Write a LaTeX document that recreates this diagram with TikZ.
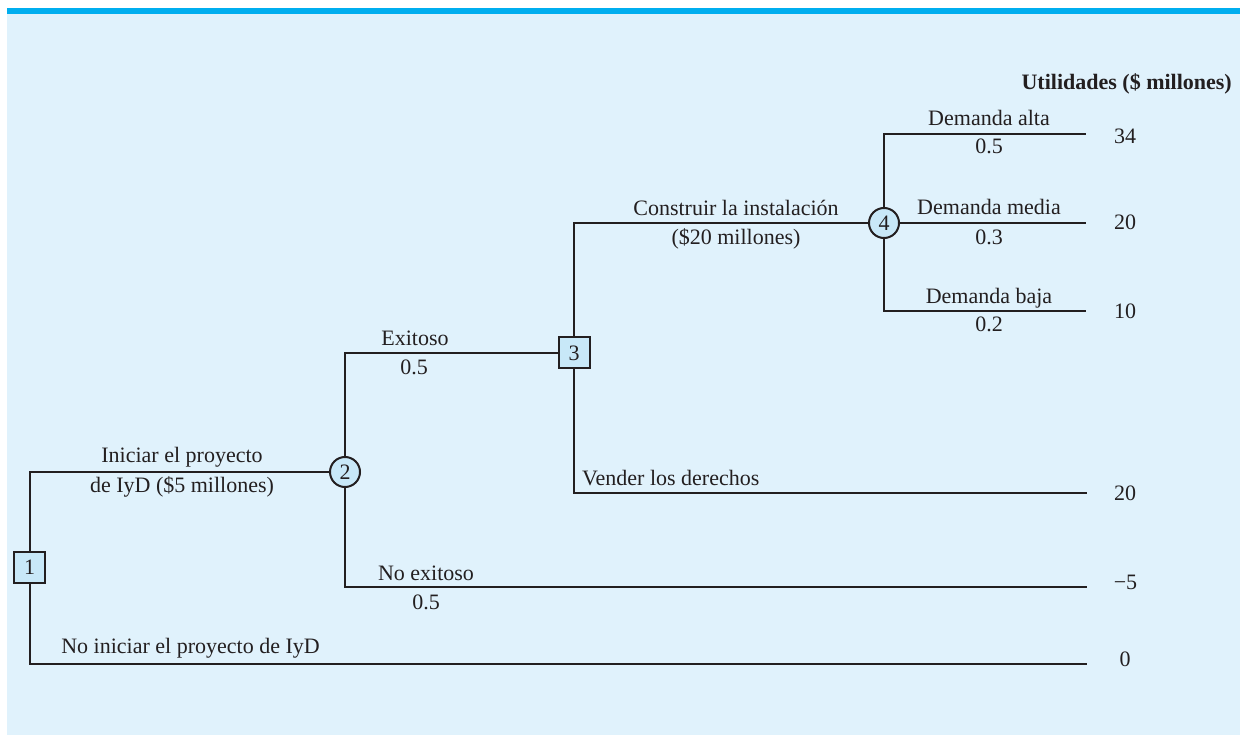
\documentclass[tikz,border=0pt]{standalone}
\usepackage{fontspec}
\setmainfont{Liberation Serif}
\definecolor{bgblue}{RGB}{224,242,252}
\definecolor{barblue}{RGB}{0,174,239}
\definecolor{nodefill}{RGB}{200,232,248}
\definecolor{ink}{RGB}{35,31,32}
\begin{document}
\begin{tikzpicture}[x=1pt,y=-1pt,
  every node/.style={font=\fontsize{22}{26}\selectfont, text=ink},
  decision/.style={draw=ink, fill=nodefill, line width=2pt, minimum width=31, minimum height=31, inner sep=0pt},
  chance/.style={circle, draw=ink, fill=nodefill, line width=2pt, minimum size=30, inner sep=0pt},
  branch/.style={draw=ink, line width=2pt},
  lbl/.style={inner sep=0pt, anchor=base},
  lblw/.style={inner sep=0pt, anchor=base west},
  lble/.style={inner sep=0pt, anchor=base east}]
\useasboundingbox (0,0) rectangle (1240,735);
\fill[bgblue] (7,14) rectangle (1240,735);
\fill[barblue] (7,8) rectangle (1240,14);

% nodes
\node[decision] (n1) at (29.5,567.5) {1};
\node[chance] (n2) at (345,472) {2};
\node[decision] (n3) at (574,353) {3};
\node[chance] (n4) at (884,223) {4};

% terminal points
\coordinate (e0) at (1087,664);
\coordinate (e5) at (1087,587);
\coordinate (e20b) at (1087,493);
\coordinate (e34) at (1086,134);
\coordinate (e20a) at (1086,223);
\coordinate (e10) at (1086,311);

% branches
\draw[branch] (n1.north) |- (n2.west);
\draw[branch] (n1.south) |- (e0);
\draw[branch] (n2.north) |- (n3.west);
\draw[branch] (n2.south) |- (e5);
\draw[branch] (n3.north) |- (n4.west);
\draw[branch] (n3.south) |- (e20b);
\draw[branch] (n4.north) |- (e34);
\draw[branch] (n4.east) -- (e20a);
\draw[branch] (n4.south) |- (e10);

% branch labels
\node[lbl] (t1a) at (182,462) {Iniciar el proyecto};
\node[lbl] (t1b) at (182,492) {de IyD (\$5 millones)};
\node[lbl] (t1c) at (190.5,653) {No iniciar el proyecto de IyD};
\node[lbl] (t2a) at (415,345) {Exitoso};
\node[lbl] (p2a) at (414,374) {0.5};
\node[lbl] (t2b) at (426,580) {No exitoso};
\node[lbl] (p2b) at (426,609) {0.5};
\node[lblw] (t3b) at (582,485) {Vender los derechos};
\node[lbl] (t3a) at (736,216) {Construir la instalación};
\node[lbl] (t3c) at (736,245) {(\$20 millones)};
\node[lbl] (t4a) at (989,126) {Demanda alta};
\node[lbl] (p4a) at (989,154) {0.5};
\node[lbl] (t4b) at (989,215) {Demanda media};
\node[lbl] (p4b) at (989,245) {0.3};
\node[lbl] (t4c) at (989,304) {Demanda baja};
\node[lbl] (p4c) at (989,332) {0.2};

% payoffs
\node[lble] (title) at (1232,90) {\bfseries Utilidades (\$ millones)};
\node[lbl] (v34) at (1125,144) {34};
\node[lbl] (v20a) at (1125,230) {20};
\node[lbl] (v10) at (1125,319) {10};
\node[lbl] (v20b) at (1125,500) {20};
\node[lbl] (vm5) at (1125.5,589) {−5};
\node[lbl] (v0) at (1125,666) {0};
\end{tikzpicture}
\end{document}
